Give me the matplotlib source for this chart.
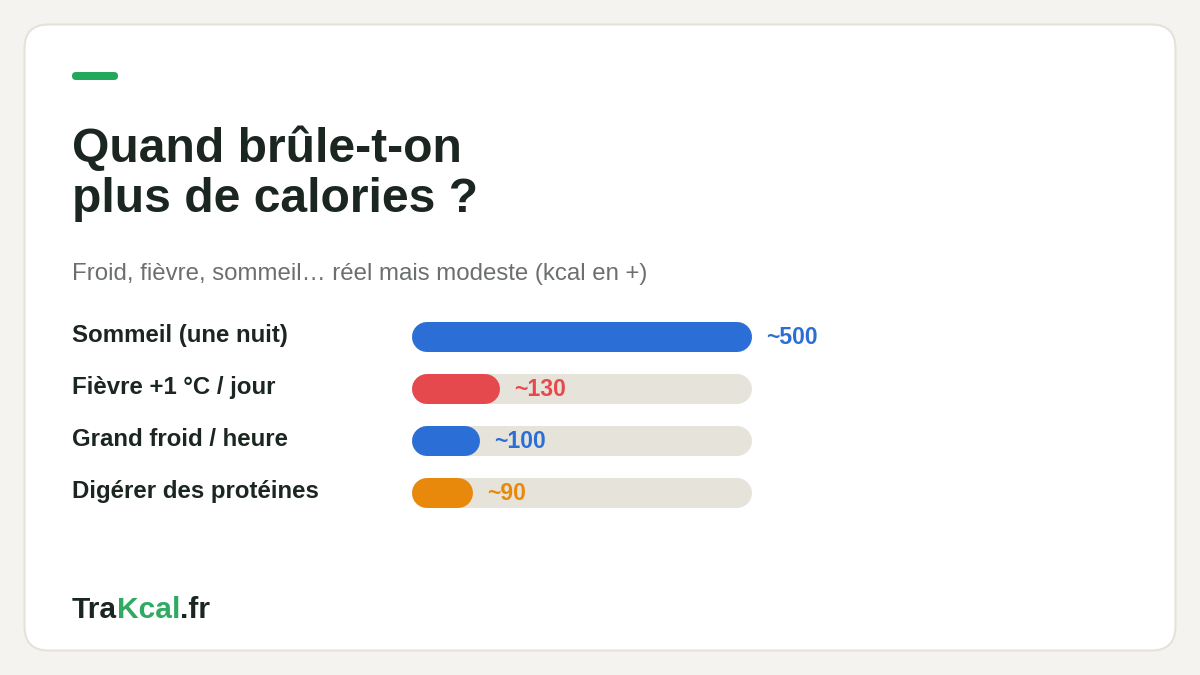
import matplotlib
matplotlib.use("Agg")
import matplotlib.pyplot as plt
from matplotlib.patches import FancyBboxPatch
from matplotlib.font_manager import FontProperties
import matplotlib.transforms as mtransforms

# ---- data ----
categories = ["Sommeil (une nuit)", "Fièvre +1 °C / jour", "Grand froid / heure", "Digérer des protéines"]
values = [500, 130, 100, 90]
value_labels = ["~500", "~130", "~100", "~90"]
bar_colors = ["#2b6fd6", "#e5484d", "#2b6fd6", "#e8890c"]
max_value = 500
title_lines = ["Quand brûle-t-on", "plus de calories ?"]
subtitle = "Froid, fièvre, sommeil… réel mais modeste (kcal en +)"
brand_parts = ["Tra", "Kcal", ".fr"]

FONT = ["Liberation Sans", "DejaVu Sans"]
DARK = "#1b2620"
GREEN = "#22a85a"
BRAND_GREEN = "#2faa60"
TRACK = "#e6e3da"

def pt(px):
    return px * 0.72

W, H = 1200, 675
fig = plt.figure(figsize=(12, 6.75), dpi=100)
fig.patch.set_facecolor("#f4f3ef")

# overlay axes in pixel coordinates
ov = fig.add_axes([0, 0, 1, 1])
ov.set_xlim(0, W)
ov.set_ylim(H, 0)
ov.axis("off")

card = FancyBboxPatch((24.5, 24.5), 1151, 626, boxstyle="round,pad=0,rounding_size=24",
                      facecolor="white", edgecolor="#e4e2d9", linewidth=1.5)
ov.add_patch(card)

accent = FancyBboxPatch((72, 72), 46, 8, boxstyle="round,pad=0,rounding_size=4",
                        facecolor=GREEN, edgecolor="none")
ov.add_patch(accent)

ov.text(72, 162, title_lines[0], fontsize=pt(48), fontweight="bold", color=DARK,
        family=FONT, va="baseline", ha="left")
ov.text(72, 212, title_lines[1], fontsize=pt(48), fontweight="bold", color=DARK,
        family=FONT, va="baseline", ha="left")
ov.text(72, 280, subtitle, fontsize=pt(24), color="#6b706d", family=FONT,
        va="baseline", ha="left")

# bar axes
row_h = 52
n = len(categories)
top = 311
ax = fig.add_axes([412 / W, 1 - (top + row_h * n) / H, 340 / W, row_h * n / H])
ax.set_xlim(0, max_value)
ax.set_ylim(n - 0.5, -0.5)
ax.axis("off")
ax.patch.set_alpha(0)

fig.canvas.draw()
inv = ax.transData.inverted()
x0_px = ax.transData.transform((0, 0))[0]
r_data = inv.transform((x0_px + 15, 0))[0]  # 15px radius in data units
lw = pt(30)

blend = mtransforms.blended_transform_factory(ov.transData, ax.transData)
val_offset = mtransforms.ScaledTranslation(14 / 100, -7 / 100, fig.dpi_scale_trans)
lab_offset = mtransforms.ScaledTranslation(0, -5 / 100, fig.dpi_scale_trans)

for i, (cat, v, lab, c) in enumerate(zip(categories, values, value_labels, bar_colors)):
    ax.plot([r_data, max_value - r_data], [i, i], color=TRACK, lw=lw,
            solid_capstyle="round", clip_on=False, zorder=1)
    ax.plot([r_data, v - r_data], [i, i], color=c, lw=lw,
            solid_capstyle="round", clip_on=False, zorder=2)
    ax.text(v, i, lab, transform=ax.transData + val_offset, fontsize=pt(23),
            fontweight="bold", color=c, family=FONT, va="baseline", ha="left",
            clip_on=False, zorder=3)
    ov.text(72, i, cat, transform=blend + lab_offset,
            fontsize=pt(24), fontweight="bold", color=DARK, family=FONT,
            va="baseline", ha="left")

# footer brand: place each part where it falls in the full word
renderer = fig.canvas.get_renderer()
fp = FontProperties(family=FONT, weight="bold", size=pt(30))

def width_px(s):
    w, h, d = renderer.get_text_width_height_descent(s, fp, ismath=False)
    return w

brand_colors = [DARK, BRAND_GREEN, DARK]
x = 72.0
prefix = ""
for part, col in zip(brand_parts, brand_colors):
    if prefix:
        x = 72.0 + width_px(prefix + part[0]) - width_px(part[0])
    ov.text(x, 618, part, fontproperties=fp, color=col, va="baseline", ha="left")
    prefix += part

fig.savefig("out.png", dpi=100, facecolor=fig.get_facecolor())
